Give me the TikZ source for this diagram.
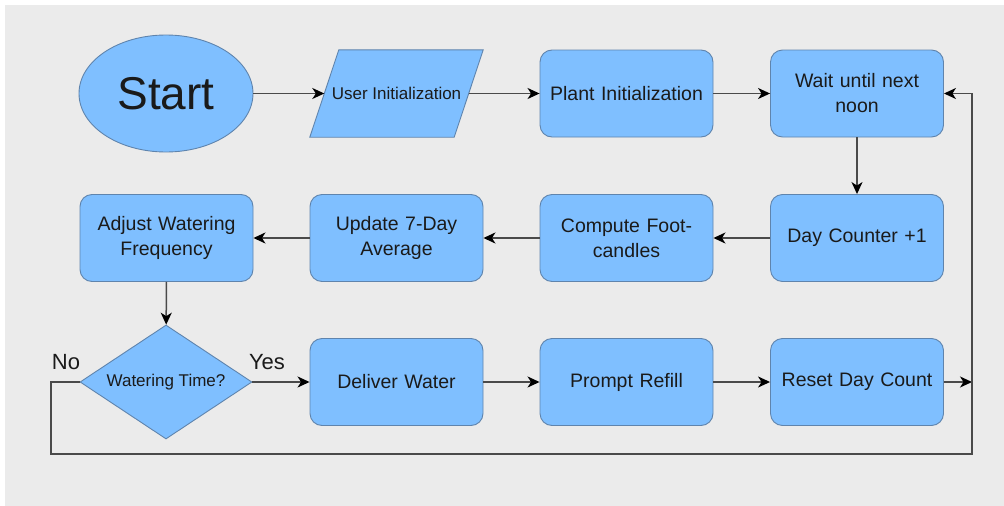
\documentclass[tikz,border=0pt]{standalone}
\usepackage{fontspec}
\setmainfont{Liberation Sans}
\usetikzlibrary{shapes.geometric,arrows.meta,positioning,backgrounds}
\definecolor{bgc}{HTML}{EBEBEB}
\definecolor{boxc}{HTML}{7FBFFF}
\definecolor{edgec}{HTML}{5F84AD}
\definecolor{linec}{HTML}{4A4A4A}
\definecolor{txtc}{HTML}{1A1A1A}
\tikzset{
  every node/.style={text=txtc},
  shapeline/.style={draw=edgec, line width=0.9pt, fill=boxc},
  proc/.style={shapeline, rounded corners=12pt,
    minimum width=173pt, minimum height=87pt, inner sep=0pt, align=center,
    font=\fontsize{19.5pt}{25pt}\selectfont, text width=165pt},
  conn/.style={draw=linec, line width=1.5pt, -{Stealth[length=12pt,width=11pt,inset=3.5pt,color=black]}},
  plain/.style={draw=linec, line width=1.5pt},
  lbl/.style={font=\fontsize{22pt}{26pt}\selectfont, inner sep=0pt}
}
\begin{document}
\begin{tikzpicture}[x=1pt,y=-1pt]
\useasboundingbox (0,0) rectangle (1004,506);

\node[ellipse, shapeline, minimum width=174pt, minimum height=117pt, inner sep=0pt,
  font=\fontsize{46pt}{50pt}\selectfont] (start) at (166,93.5) {Start};
\node[rectangle, minimum height=87pt, minimum width=144pt, inner sep=0pt,
  font=\fontsize{17pt}{20pt}\selectfont] (user) at (396.5,93.5) {User Initialization};
\node[proc] (plant) at (626.5,93.5) {Plant Initialization};
\node[proc] (wait) at (857,93.5) {Wait until next\\noon};

\node[proc] (adjust) at (166.5,238) {Adjust Watering\\Frequency};
\node[proc] (update) at (396.5,238) {Update 7-Day\\Average};
\node[proc] (compute) at (626.5,238) {Compute Foot-\\candles};
\node[proc] (day) at (857,238) {Day Counter +1};

\node[diamond, shapeline, minimum width=172pt, minimum height=114pt, inner sep=0pt,
  aspect=1.5, font=\fontsize{17pt}{20pt}\selectfont] (dec) at (166,382) {Watering Time?};
\node[proc] (deliver) at (396.5,382) {Deliver Water};
\node[proc] (prompt) at (626.5,382) {Prompt Refill};
\node[proc] (reset) at (857,382) {Reset Day Count};

\begin{pgfonlayer}{background}
\fill[white] (0,0) rectangle (1004,506);
\fill[bgc] (5,5) rectangle (1004,506);
\path[shapeline] ([xshift=14.5pt]user.north west) -- ([xshift=14.5pt]user.north east)
  -- ([xshift=-14.5pt]user.south east) -- ([xshift=-14.5pt]user.south west) -- cycle;
\end{pgfonlayer}

\coordinate (rr) at (972,382);
\coordinate (rb) at (972,454);
\coordinate (lb) at (51,454);
\coordinate (lt) at (51,382);
\coordinate (rt) at (972,93.5);

\node[lbl] (no) at (66,362) {No};
\node[lbl] (yes) at (267,362) {Yes};

\draw[conn] (start) -- (user);
\draw[conn] (user) -- (plant);
\draw[conn] (plant) -- (wait);
\draw[conn] (wait) -- (day);
\draw[conn] (day) -- (compute);
\draw[conn] (compute) -- (update);
\draw[conn] (update) -- (adjust);
\draw[conn] (adjust) -- (dec);
\draw[conn] (dec) -- (deliver);
\draw[conn] (deliver) -- (prompt);
\draw[conn] (prompt) -- (reset);
\draw[conn] (reset) -- (rr);
\draw[plain] (dec.west) -- (lt) -- (lb) -- (rb) -- (rr);
\draw[conn] (rr) -- (rt) -- (wait.east);
\end{tikzpicture}
\end{document}
